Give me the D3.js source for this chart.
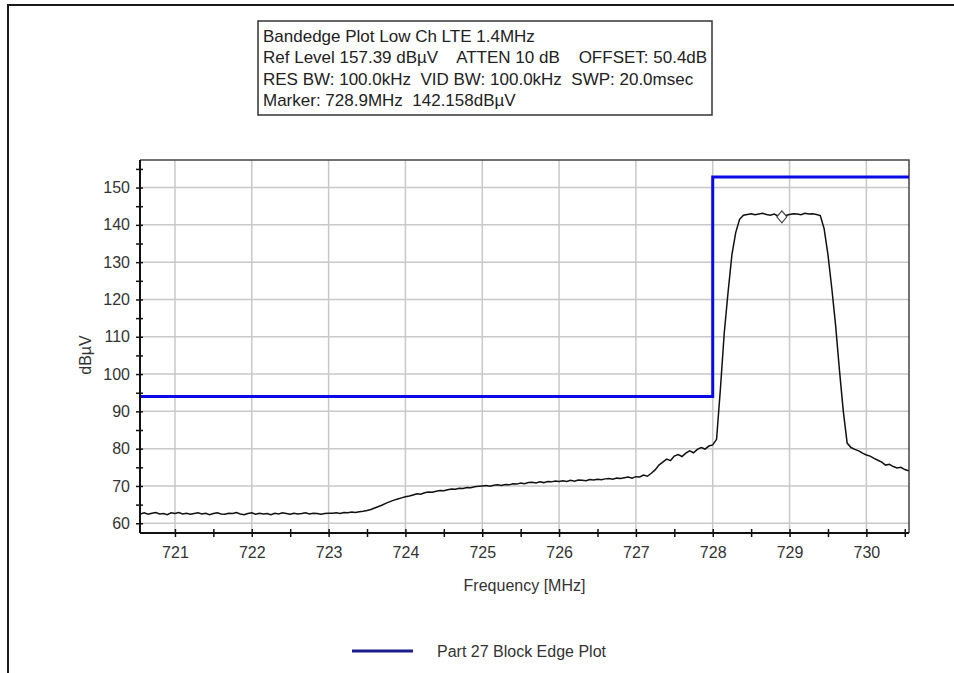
<!DOCTYPE html>
<html>
<head>
<meta charset="utf-8">
<script src="https://cdn.jsdelivr.net/npm/d3@7"></script>
<style>
  body { margin: 0; background: #fff; }
  svg { display: block; font-family: "Liberation Sans", Arial, sans-serif; }
</style>
</head>
<body>
<div id="chart"></div>
<script>
// header text
const headerLines = [
  'Bandedge Plot Low Ch LTE 1.4MHz',
  'Ref Level 157.39 dB\u00b5V    ATTEN 10 dB    OFFSET: 50.4dB',
  'RES BW: 100.0kHz  VID BW: 100.0kHz  SWP: 20.0msec',
  'Marker: 728.9MHz  142.158dB\u00b5V'
];

// axis ranges / ticks
const freqMin = 720.545, freqMax = 730.555;
const levelMin = 57.39, levelMax = 157.39;
const freqTicks = [721, 722, 723, 724, 725, 726, 727, 728, 729, 730];
const freqMinorTicks = [721, 721.5, 722, 722.5, 723, 723.5, 724, 724.5, 725, 725.5, 726, 726.5, 727, 727.5, 728, 728.5, 729, 729.5, 730, 730.5];
const levelTicks = [60, 70, 80, 90, 100, 110, 120, 130, 140, 150];
const levelMinorTicks = [60, 65, 70, 75, 80, 85, 90, 95, 100, 105, 110, 115, 120, 125, 130, 135, 140, 145, 150, 155];

// block edge limit (blue)
const limitFreq = [720.545, 728.0, 728.0, 730.555];
const limitLevel = [94, 94, 152.8, 152.8];

// measured trace, sweep points every 0.05 MHz from 720.55
const sweepStart = 720.55, sweepStep = 0.05;
const traceLevel = [
  62.5, 62.8, 62.4, 62.7, 62.9, 62.5, 62.6, 62.3, 62.8, 62.6,
  62.9, 62.5, 62.7, 62.4, 62.6, 62.8, 62.5, 62.7, 62.3, 62.6,
  62.8, 62.5, 62.4, 62.7, 62.6, 62.9, 62.5, 62.3, 62.6, 62.8,
  62.4, 62.7, 62.5, 62.6, 62.3, 62.7, 62.5, 62.8, 62.6, 62.4,
  62.7, 62.5, 62.6, 62.8, 62.5, 62.7, 62.6, 62.4, 62.6, 62.7,
  62.7, 62.8, 62.6, 62.9, 62.8, 63.0, 62.9, 63.1, 63.2, 63.4,
  63.7, 64.1, 64.5, 64.9, 65.4, 65.8, 66.2, 66.5, 66.8, 67.1,
  67.3, 67.6, 67.9, 67.8, 68.2, 68.4, 68.3, 68.6, 68.8, 68.7,
  69.0, 69.2, 69.1, 69.4, 69.3, 69.6, 69.5, 69.8, 69.9, 70.0,
  70.1, 69.9, 70.2, 70.3, 70.1, 70.4, 70.3, 70.6, 70.5, 70.8,
  70.6, 70.9, 71.0, 70.8, 71.1, 70.9, 71.2, 71.1, 71.3, 71.2,
  71.4, 71.2, 71.5, 71.3, 71.6, 71.5, 71.4, 71.7, 71.6, 71.8,
  71.7, 71.9, 72.0, 71.8, 72.1, 72.0, 72.2, 72.4, 72.1, 72.5,
  72.4, 72.9, 72.6, 73.4, 74.3, 75.6, 76.4, 77.2, 76.8, 78.0,
  78.4, 77.9, 78.8, 79.4, 78.9, 79.8, 80.3, 79.9, 80.7, 81.0,
  82.5, 96.0, 111.0, 122.0, 132.0, 138.0, 141.5, 142.6,
  142.8, 143.0, 142.7, 142.9, 143.1, 142.8, 142.6, 142.9, 142.4, 142.2,
  142.5, 142.8, 143.0, 142.9, 142.7, 143.1, 142.9, 143.0, 142.8,
  142.5, 139.0, 132.0, 123.0, 113.0, 101.0, 90.0, 81.5, 80.3,
  79.8, 79.4, 78.8, 78.3, 78.0, 77.4, 76.9, 76.4, 75.6, 75.8,
  75.2, 74.8, 75.0, 74.4, 74.1
];

const markerFreq = 728.9, markerLevel = 142.158;
const legendLabel = 'Part 27 Block Edge Plot';

const width = 954, height = 673;
const plot = {left: 140, right: 909, top: 160, bottom: 533};

const svg = d3.select('#chart').append('svg')
  .attr('width', width).attr('height', height);

svg.append('rect').attr('width', width).attr('height', height).attr('fill', '#fff');

// outer frame (left + top only)
svg.append('path')
  .attr('d', 'M8,' + height + 'V5H' + width)
  .attr('fill', 'none').attr('stroke', '#1a1a1a').attr('stroke-width', 2);

// header box
const hdr = svg.append('g');
hdr.append('rect')
  .attr('x', 258).attr('y', 21).attr('width', 454).attr('height', 94)
  .attr('fill', '#fff').attr('stroke', '#333').attr('stroke-width', 1.5);
hdr.selectAll('text').data(headerLines).enter().append('text')
  .attr('x', 263)
  .attr('y', (d, i) => 42 + i * 21.3)
  .attr('font-size', 17)
  .attr('fill', '#222')
  .attr('xml:space', 'preserve')
  .style('white-space', 'pre')
  .text(d => d);

const x = d3.scaleLinear().domain([freqMin, freqMax]).range([plot.left, plot.right]);
const y = d3.scaleLinear().domain([levelMin, levelMax]).range([plot.bottom, plot.top]);

// grid
svg.append('g').selectAll('line').data(freqTicks).enter().append('line')
  .attr('x1', d => x(d)).attr('x2', d => x(d))
  .attr('y1', plot.top).attr('y2', plot.bottom)
  .attr('stroke', '#c8c8c8').attr('stroke-width', 1.5);
svg.append('g').selectAll('line').data(levelTicks).enter().append('line')
  .attr('x1', plot.left).attr('x2', plot.right)
  .attr('y1', d => y(d)).attr('y2', d => y(d))
  .attr('stroke', '#c8c8c8').attr('stroke-width', 1.5);

// plot border
svg.append('path')
  .attr('d', 'M' + plot.left + ',' + plot.top + 'H' + plot.right + 'V' + plot.bottom)
  .attr('fill', 'none').attr('stroke', '#444').attr('stroke-width', 1.5);

svg.append('clipPath').attr('id', 'clip').append('rect')
  .attr('x', plot.left).attr('y', plot.top)
  .attr('width', plot.right - plot.left).attr('height', plot.bottom - plot.top);

// limit line
const limitData = limitFreq.map((f, i) => ({f: f, v: limitLevel[i]}));
svg.append('path')
  .datum(limitData)
  .attr('clip-path', 'url(#clip)')
  .attr('fill', 'none').attr('stroke', '#0a0ae6').attr('stroke-width', 3)
  .attr('d', d3.line().x(d => x(d.f)).y(d => y(d.v)));

// trace
const traceData = traceLevel.map((v, i) => ({f: sweepStart + i * sweepStep, v: v}));
svg.append('path')
  .datum(traceData)
  .attr('clip-path', 'url(#clip)')
  .attr('fill', 'none').attr('stroke', '#111').attr('stroke-width', 1.5)
  .attr('d', d3.line().x(d => x(d.f)).y(d => y(d.v)));

// marker diamond
svg.append('path')
  .attr('transform', 'translate(' + x(markerFreq) + ',' + y(markerLevel) + ')')
  .attr('d', 'M0,-6L5,0L0,6L-5,0Z')
  .attr('fill', '#fff').attr('stroke', '#444').attr('stroke-width', 1.2);

// axes
const yAxis = d3.axisLeft(y).tickValues(levelMinorTicks).tickSize(4).tickPadding(6)
  .tickFormat(d => levelTicks.includes(d) ? d : '');
const gy = svg.append('g').attr('transform', 'translate(' + plot.left + ',0)').call(yAxis);
gy.selectAll('.tick line').attr('x2', -4).attr('x1', 3).attr('stroke', '#111').attr('stroke-width', 1.5);
gy.select('.domain').attr('d', 'M0,' + plot.top + 'V' + plot.bottom).attr('stroke', '#111').attr('stroke-width', 2);
gy.selectAll('text').attr('font-size', 16).attr('fill', '#333').attr('font-family', '"Liberation Sans", Arial, sans-serif');

const xAxis = d3.axisBottom(x).tickValues(freqMinorTicks).tickSize(4).tickPadding(10)
  .tickFormat(d => freqTicks.includes(d) ? d : '');
const gx = svg.append('g').attr('transform', 'translate(0,' + plot.bottom + ')').call(xAxis);
gx.selectAll('.tick line').attr('y1', -4).attr('y2', 4).attr('stroke', '#111').attr('stroke-width', 1.5);
gx.select('.domain').attr('d', 'M' + plot.left + ',0H' + plot.right).attr('stroke', '#111').attr('stroke-width', 2);
gx.selectAll('text').attr('font-size', 16).attr('fill', '#333').attr('font-family', '"Liberation Sans", Arial, sans-serif');

// axis titles
svg.append('text')
  .attr('transform', 'translate(91,355) rotate(-90)')
  .attr('text-anchor', 'middle').attr('font-size', 16).attr('fill', '#333')
  .text('dB\u00b5V');
svg.append('text')
  .attr('x', (plot.left + plot.right) / 2).attr('y', 591)
  .attr('text-anchor', 'middle').attr('font-size', 16).attr('fill', '#333')
  .text('Frequency [MHz]');

// legend
svg.append('line')
  .attr('x1', 352).attr('x2', 413).attr('y1', 651).attr('y2', 651)
  .attr('stroke', '#1c1c8c').attr('stroke-width', 3);
svg.append('text')
  .attr('x', 437).attr('y', 657)
  .attr('font-size', 16).attr('fill', '#333')
  .text(legendLabel);
</script>
</body>
</html>
